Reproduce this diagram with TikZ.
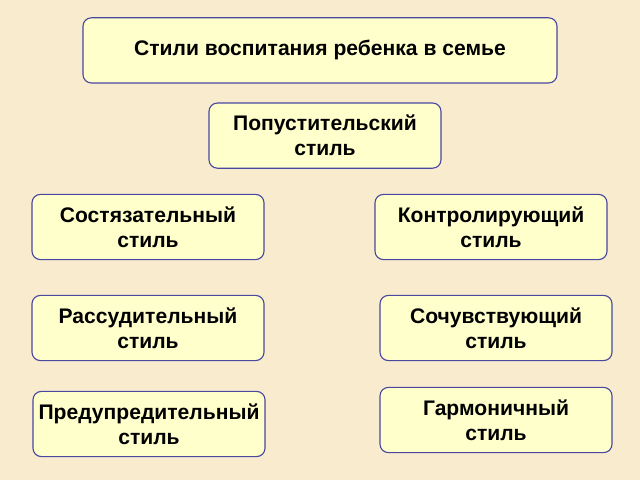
\documentclass[tikz,border=0pt]{standalone}
\usepackage{fontspec}
\setmainfont{Liberation Sans}
\definecolor{paper}{RGB}{248,235,206}
\definecolor{boxfill}{RGB}{255,255,204}
\definecolor{boxline}{RGB}{72,72,160}

\begin{document}
\begin{tikzpicture}[stilbox/.style={draw=boxline,fill=boxfill,thick,rounded corners=6pt,
    minimum width=5.8cm,minimum height=1.63cm,align=center,inner sep=0pt,
    font=\fontsize{15}{17.8}\selectfont\bfseries}]

% background
\fill[paper] (0,0) rectangle (16,12);

% title
\node[stilbox,minimum width=11.85cm] (title) at (8,10.74) {Стили воспитания ребенка в семье};

% styles
\node[stilbox] (popust) at (8.125,8.61) {Попустительский\\стиль};
\node[stilbox] (sostyaz) at (3.7,6.325) {Состязательный\\стиль};
\node[stilbox] (kontrol) at (12.275,6.325) {Контролирующий\\стиль};
\node[stilbox] (rassud) at (3.7,3.8) {Рассудительный\\стиль};
\node[stilbox] (sochuv) at (12.4,3.8) {Сочувствующий\\стиль};
\node[stilbox] (garmon) at (12.4,1.5) {Гармоничный\\стиль};
\node[stilbox] (predupr) at (3.725,1.4) {Предупредительный\\стиль};

\end{tikzpicture}
\end{document}
